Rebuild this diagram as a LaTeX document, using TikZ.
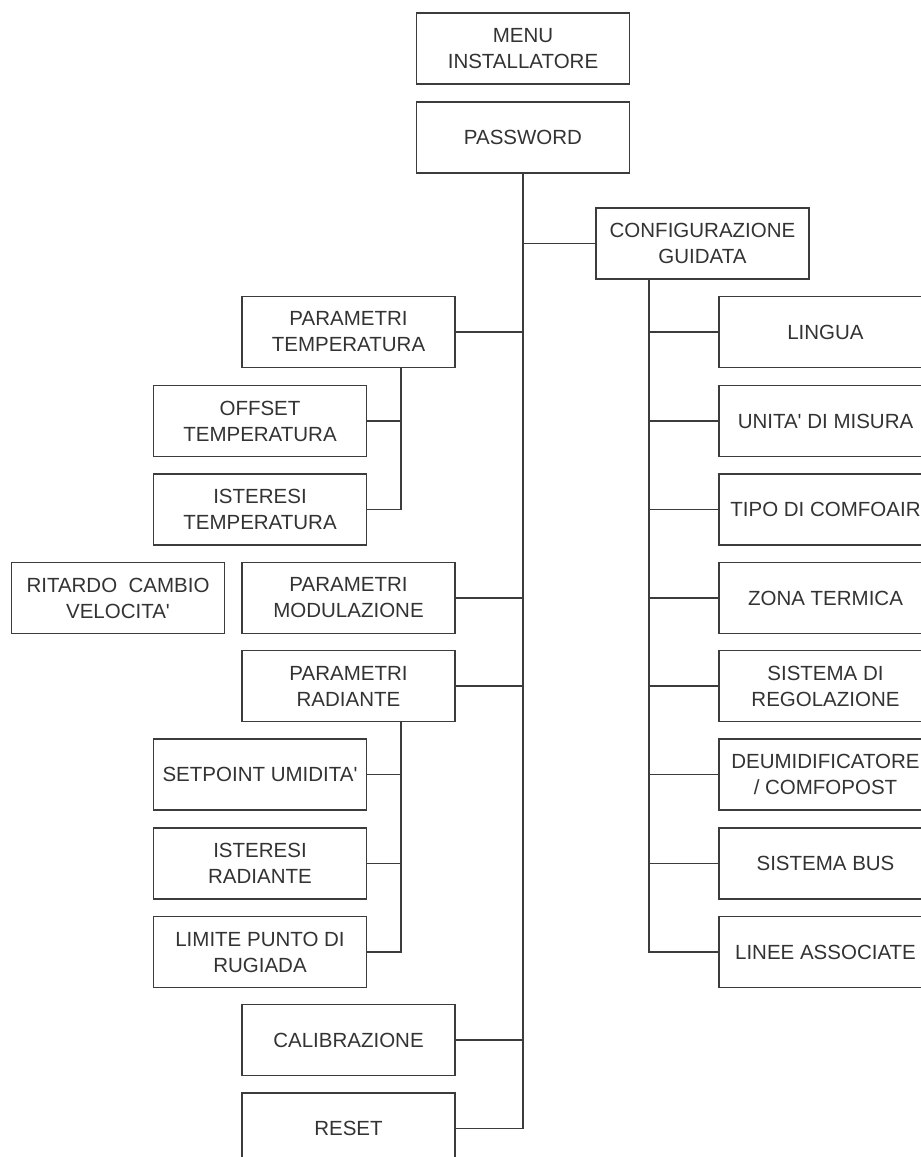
\documentclass[tikz,border=0pt]{standalone}
\usepackage{fontspec}
\setmainfont{Liberation Sans}
\begin{document}
\begin{tikzpicture}[x=1pt,y=-1pt,
  box/.style={draw=linegray, line width=1.6pt, fill=white, text=textgray,
    minimum width=213pt, minimum height=71pt, inner sep=0pt, align=center,
    font=\fontsize{20.5pt}{26pt}\selectfont},
  link/.style={draw=linegray, line width=1.6pt}]
\definecolor{linegray}{HTML}{3C3C3C}
\definecolor{textgray}{HTML}{333333}
\newcommand{\apo}{\textquotesingle}
\useasboundingbox (0,0) rectangle (921,1157);
\fill[white] (0,0) rectangle (921,1157);
\clip (0,0) rectangle (921,1157);

% top of the menu
\node[box] (menu) at (523,48.5) {MENU\\INSTALLATORE};
\node[box] (password) at (523,137.5) {PASSWORD};

% guided configuration branch
\node[box] (config) at (702.5,243.5) {CONFIGURAZIONE\\GUIDATA};
\node[box] (lingua)  at (825.5,332)    {LINGUA};
\node[box] (unita)   at (825.5,421)    {UNITA\apo{} DI MISURA};
\node[box] (tipo)    at (825.5,509.5)  {TIPO DI COMFOAIR};
\node[box] (zona)    at (825.5,598)    {ZONA TERMICA};
\node[box] (sistreg) at (825.5,686)    {SISTEMA DI\\REGOLAZIONE};
\node[box] (deum)    at (825.5,774.5)  {DEUMIDIFICATORE\\/ COMFOPOST};
\node[box] (bus)     at (825.5,863.5)  {SISTEMA BUS};
\node[box] (linee)   at (825.5,952)    {LINEE ASSOCIATE};

% parameter branches
\node[box] (ptemp)   at (348.5,332)    {PARAMETRI\\TEMPERATURA};
\node[box] (offset)  at (260,421)      {OFFSET\\TEMPERATURA};
\node[box] (isttemp) at (260,509.5)    {ISTERESI\\TEMPERATURA};
\node[box] (ritardo) at (118,598)      {RITARDO~~CAMBIO\\VELOCITA\apo};
\node[box] (pmod)    at (348.5,598)    {PARAMETRI\\MODULAZIONE};
\node[box] (prad)    at (348.5,686)    {PARAMETRI\\RADIANTE};
\node[box] (setp)    at (260,774.5)    {SETPOINT UMIDITA\apo};
\node[box] (istrad)  at (260,863.5)    {ISTERESI\\RADIANTE};
\node[box] (limite)  at (260,952)      {LIMITE PUNTO DI\\RUGIADA};
\node[box] (calib)   at (348.5,1040)   {CALIBRAZIONE};
\node[box] (reset)   at (348.5,1128.5) {RESET};

% trunk taps
\coordinate (cfgtap) at (649,279);
\coordinate (temptap) at (401,367.5);
\coordinate (radtap) at (401,721.5);

% main trunk
\draw[link] (password.south) -- (password.south |- reset.east) -- (reset.east);
\foreach \n in {ptemp,pmod,prad,calib}
  \draw[link] (\n.east) -- (\n.east -| password.south);
\draw[link] (config.west) -- (config.west -| password.south);

% configuration trunk
\draw[link] (cfgtap) -- (cfgtap |- linee.west) -- (linee.west);
\foreach \n in {lingua,unita,tipo,zona,sistreg,deum,bus}
  \draw[link] (\n.west) -- (\n.west -| cfgtap);

% temperature sub-trunk
\draw[link] (temptap) -- (temptap |- isttemp.east) -- (isttemp.east);
\draw[link] (offset.east) -- (offset.east -| temptap);

% radiant sub-trunk
\draw[link] (radtap) -- (radtap |- limite.east) -- (limite.east);
\foreach \n in {setp,istrad}
  \draw[link] (\n.east) -- (\n.east -| radtap);
\end{tikzpicture}
\end{document}
